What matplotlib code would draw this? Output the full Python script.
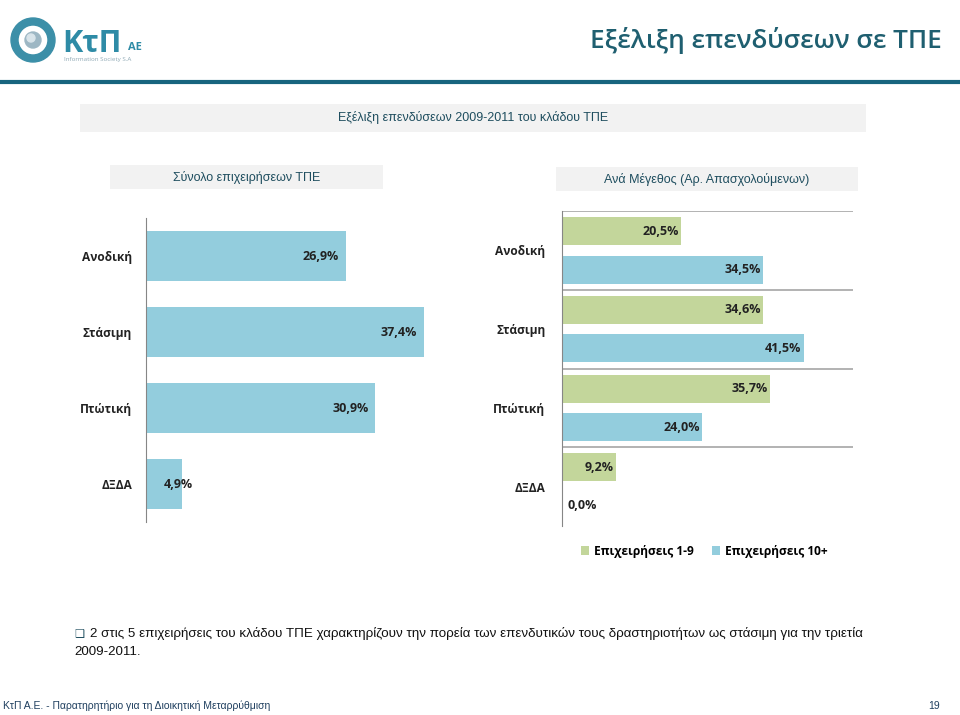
import matplotlib.pyplot as plt
import matplotlib as mpl
from matplotlib.patches import Rectangle, Circle, Wedge
import numpy as np

mpl.rcParams['font.family'] = ['Open Sans', 'DejaVu Sans']
NARROW = ['Liberation Sans Narrow', 'Liberation Sans', 'DejaVu Sans']

# data
categories = ["Ανοδική", "Στάσιμη", "Πτώτική", "ΔΞΔΑ"]
total_values = [26.9, 37.4, 30.9, 4.9]
small_values = [20.5, 34.6, 35.7, 9.2]      # Επιχειρήσεις 1-9
large_values = [34.5, 41.5, 24.0, 0.0]      # Επιχειρήσεις 10+
series_names = ["Επιχειρήσεις 1-9", "Επιχειρήσεις 10+"]

blue = "#93CDDD"
green = "#C3D69B"
teal = "#1F5F70"
W, H = 960, 715


def fig_rect(x0, y0, x1, y1):
    # pixel box (top-left origin) -> figure fraction [l, b, w, h]
    return [x0 / W, 1 - y1 / H, (x1 - x0) / W, (y1 - y0) / H]


def fmt(v):
    return f"{v:.1f}%".replace(".", ",")


fig = plt.figure(figsize=(9.6, 7.15), dpi=100)

# ---- header
fig.text(942 / W, 1 - 40 / H, "Εξέλιξη επενδύσεων σε ΤΠΕ", ha="right", va="center",
         fontsize=18.8, color=teal, fontweight="semibold")
fig.add_artist(plt.Line2D([0, 1], [1 - 82 / H, 1 - 82 / H], color="#17657E", lw=3))

# logo
lax = fig.add_axes(fig_rect(0, 0, 160, 80))
lax.set_xlim(0, 160)
lax.set_ylim(80, 0)
lax.axis("off")
lax.add_patch(Wedge((33, 40), 22, 0, 360, width=7, color="#3C8FA8"))
lax.add_patch(Circle((33, 40), 8, color="#9DB7C4"))
lax.add_patch(Circle((31, 38), 4, color="#D8E4EA"))
lax.text(62, 44, "KτΠ", fontsize=22, fontweight="bold", color="#2E8BA6", va="center", ha="left")
lax.text(128, 47, "AE", fontsize=8, fontweight="bold", color="#2E8BA6", va="center", ha="left")
lax.text(64, 60, "Information Society S.A", fontsize=4.5, color="#8FA9B5", va="center", ha="left")

# ---- grey heading boxes
for (x0, y0, x1, y1, txt) in [(80, 104, 866, 132, "Εξέλιξη επενδύσεων 2009-2011 του κλάδου ΤΠΕ"),
                              (110, 165, 383, 189, "Σύνολο επιχειρήσεων ΤΠΕ"),
                              (556, 167, 858, 191, "Ανά Μέγεθος (Αρ. Απασχολούμενων)")]:
    fig.add_artist(Rectangle((x0 / W, 1 - y1 / H), (x1 - x0) / W, (y1 - y0) / H,
                             transform=fig.transFigure, facecolor="#F2F2F2", edgecolor="none"))
    fig.text((x0 + x1) / 2 / W, 1 - (y0 + y1) / 2 / H, txt, ha="center", va="center",
             fontsize=9, color="#1F4E5F", family=NARROW)

y = np.arange(len(categories))
lab_kw = dict(fontsize=9, fontweight="bold", color="#222222")

# ---- left chart: total
ax1 = fig.add_axes(fig_rect(146, 218, 480, 522))
ax1.barh(y, total_values, height=0.66, color=blue)
ax1.set_xlim(0, 45)
ax1.set_ylim(len(categories) - 0.5, -0.5)
ax1.set_yticks(y)
ax1.set_yticklabels(categories, fontsize=8.6, fontweight="bold", color="#222222")
ax1.tick_params(axis="y", length=0, pad=10)
ax1.set_xticks([])
for s in ["top", "right", "bottom"]:
    ax1.spines[s].set_visible(False)
ax1.spines["left"].set_color("#868686")
for yi, v in zip(y, total_values):
    ax1.annotate(fmt(v), (max(v, 7.3), yi), xytext=(-5, 0), textcoords="offset points",
                 ha="right", va="center", **lab_kw)

# ---- right chart: by size
ax2 = fig.add_axes(fig_rect(562, 211, 853, 526))
off, bh = 0.245, 0.355
ax2.barh(y - off, small_values, height=bh, color=green, label=series_names[0])
ax2.barh(y + off, large_values, height=bh, color=blue, label=series_names[1])
ax2.set_xlim(0, 50)
ax2.set_ylim(len(categories) - 0.5, -0.5)
ax2.set_yticks(y)
ax2.set_yticklabels(categories, fontsize=8.6, fontweight="bold", color="#222222")
ax2.tick_params(axis="y", length=0, pad=12)
ax2.set_xticks([])
for s in ["top", "right", "bottom"]:
    ax2.spines[s].set_visible(False)
ax2.spines["left"].set_color("#868686")
for b in np.arange(-0.5, len(categories) - 1, 1.0):
    ax2.axhline(b, color="#A6A6A6", lw=1.2)
for yi, v in zip(y - off, small_values):
    ax2.annotate(fmt(v), (max(v, 6.3), yi), xytext=(-1.5, 0), textcoords="offset points",
                 ha="right", va="center", **lab_kw)
for yi, v in zip(y + off, large_values):
    ax2.annotate(fmt(v), (max(v, 6.3), yi), xytext=(-1.5, 0), textcoords="offset points",
                 ha="right", va="center", **lab_kw)

fig.legend(loc="center", bbox_to_anchor=(704 / W, 1 - 551 / H), ncol=2, frameon=False,
           prop={"weight": "bold", "size": 8.6}, handlelength=0.7, handleheight=0.7,
           handletextpad=0.4, columnspacing=1.5)

# ---- bottom note and footer
fig.text(74 / W, 1 - 633 / H, "❑", ha="left", va="center", fontsize=8, color="#1F4E5F",
         family=["DejaVu Sans"])
fig.text(90 / W, 1 - 633 / H,
         "2 στις 5 επιχειρήσεις του κλάδου ΤΠΕ χαρακτηρίζουν την πορεία των επενδυτικών τους δραστηριοτήτων ως στάσιμη για την τριετία",
         ha="left", va="center", fontsize=9.65, color="#111111", family=NARROW)
fig.text(74 / W, 1 - 652 / H, "2009-2011.", ha="left", va="center", fontsize=9.65,
         color="#111111", family=NARROW)
fig.text(3 / W, 1 - 706 / H, "ΚτΠ Α.Ε. - Παρατηρητήριο για τη Διοικητική Μεταρρύθμιση",
         ha="left", va="center", fontsize=7.5, color="#1F3F5F", family=NARROW)
fig.text(940 / W, 1 - 706 / H, "19", ha="right", va="center", fontsize=7.5,
         color="#1F3F5F", family=NARROW)

fig.savefig("out.png", dpi=100)
